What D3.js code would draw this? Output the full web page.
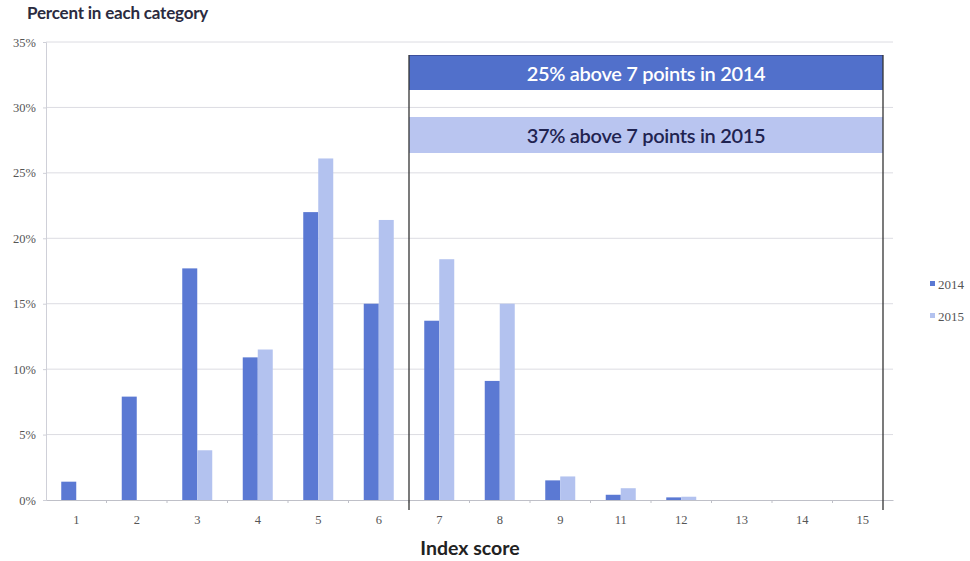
<!DOCTYPE html>
<html>
<head>
<meta charset="utf-8">
<script src="https://cdn.jsdelivr.net/npm/d3@7"></script>
<style>
  body { margin: 0; background: #fff; }
  svg { display: block; }
</style>
</head>
<body>
<svg id="chart" width="970" height="561"></svg>
<script>
// Index score categories (there is no 10)
const categories = ["1", "2", "3", "4", "5", "6", "7", "8", "9", "11", "12", "13", "14", "15"];
// Percent of respondents in each category
const values2014 = [1.4, 7.9, 17.7, 10.9, 22.0, 15.0, 13.7, 9.1, 1.5, 0.4, 0.2, 0, 0, 0];
const values2015 = [0, 0, 3.8, 11.5, 26.1, 21.4, 18.4, 15.0, 1.8, 0.9, 0.25, 0, 0, 0];
const seriesNames = ["2014", "2015"];
const yTicks = [0, 5, 10, 15, 20, 25, 30, 35];
const bannerTexts = ["25% above 7 points in 2014", "37% above 7 points in 2015"];
const splitAt = "7";

const colors = { "2014": "#5b79d3", "2015": "#b3c2ef" };
const bannerFill = ["#5170cb", "#b9c5f0"];
const bannerText = ["#ffffff", "#1f2350"];

const svg = d3.select("#chart");
const plotLeft = 46, plotRight = 893, plotTop = 42, plotBottom = 500;

const x = d3.scaleBand().domain(categories).range([plotLeft, plotRight]).paddingInner(0).paddingOuter(0);
const x1 = d3.scaleBand().domain(seriesNames).range([x.bandwidth() / 2 - 15, x.bandwidth() / 2 + 15]);
const y = d3.scaleLinear().domain([0, 35]).range([plotBottom, plotTop]);

const tickFont = "'Liberation Serif', 'DejaVu Serif', serif";
const labelFont = "Lato, 'Open Sans', sans-serif";

// horizontal gridlines
svg.append("g")
  .selectAll("line")
  .data(yTicks.filter(d => d > 0))
  .join("line")
  .attr("x1", plotLeft).attr("x2", plotRight)
  .attr("y1", d => y(d)).attr("y2", d => y(d))
  .attr("stroke", "#dcdce2").attr("stroke-width", 1);

// y axis
const yAxis = svg.append("g")
  .attr("transform", `translate(${plotLeft},0)`)
  .call(d3.axisLeft(y).tickValues(yTicks).tickFormat(d => d + "%").tickSize(3).tickPadding(7));
yAxis.select(".domain").attr("stroke", "#cfd0d8");
yAxis.selectAll(".tick line").attr("stroke", "#cfd0d8");
yAxis.selectAll("text").attr("font-family", tickFont).attr("font-size", 12.5).attr("fill", "#555");

// bars
const groups = svg.append("g")
  .selectAll("g")
  .data(categories)
  .join("g")
  .attr("transform", d => `translate(${x(d)},0)`);

groups.selectAll("rect")
  .data((d, i) => seriesNames.map(s => ({ s, v: s === "2014" ? values2014[i] : values2015[i] })))
  .join("rect")
  .attr("x", d => x1(d.s))
  .attr("width", x1.bandwidth())
  .attr("y", d => y(d.v))
  .attr("height", d => y(0) - y(d.v))
  .attr("fill", d => colors[d.s]);

// x axis
const xAxis = svg.append("g")
  .attr("transform", `translate(0,${plotBottom})`)
  .call(d3.axisBottom(x).tickSize(0).tickPadding(15));
xAxis.select(".domain").attr("stroke", "#bfc0c8");
xAxis.selectAll("text").attr("font-family", tickFont).attr("font-size", 12.5).attr("fill", "#555");
// small separators between categories
svg.append("g")
  .selectAll("line")
  .data(categories.slice(1))
  .join("line")
  .attr("x1", d => x(d)).attr("x2", d => x(d))
  .attr("y1", plotBottom).attr("y2", plotBottom + 3)
  .attr("stroke", "#bfc0c8");

// bracket marking scores of 7 and above, with the two summary banners
const boxLeft = x(splitAt);
const boxRight = plotRight - 10;
const boxTop = 55;
svg.append("rect")
  .attr("x", boxLeft).attr("y", boxTop)
  .attr("width", boxRight - boxLeft).attr("height", 35)
  .attr("fill", bannerFill[0]);
svg.append("line")
  .attr("x1", boxLeft).attr("x2", boxRight)
  .attr("y1", boxTop + 0.5).attr("y2", boxTop + 0.5)
  .attr("stroke", "#3c4f9c").attr("stroke-width", 1);
svg.append("rect")
  .attr("x", boxLeft).attr("y", 117)
  .attr("width", boxRight - boxLeft).attr("height", 36)
  .attr("fill", bannerFill[1]);
[73, 135].forEach((cy, i) => {
  svg.append("text")
    .attr("x", (boxLeft + boxRight) / 2).attr("y", cy)
    .attr("text-anchor", "middle").attr("dominant-baseline", "central")
    .attr("font-family", labelFont).attr("font-size", 20).attr("font-weight", 600)
    .attr("letter-spacing", -0.3)
    .attr("fill", bannerText[i])
    .text(bannerTexts[i]);
});
[boxLeft, boxRight].forEach(bx => {
  svg.append("line")
    .attr("x1", bx).attr("x2", bx)
    .attr("y1", boxTop).attr("y2", plotBottom + 10)
    .attr("stroke", "#333").attr("stroke-width", 1.3);
});

// axis titles
svg.append("text")
  .attr("x", 27).attr("y", 19)
  .attr("font-family", labelFont).attr("font-size", 17).attr("font-weight", 700)
  .attr("letter-spacing", -0.2)
  .attr("fill", "#2b2b40")
  .text("Percent in each category");
svg.append("text")
  .attr("x", 470).attr("y", 555)
  .attr("text-anchor", "middle")
  .attr("font-family", labelFont).attr("font-size", 19.5).attr("font-weight", 700)
  .attr("fill", "#222")
  .text("Index score");

// legend
const legend = svg.append("g")
  .selectAll("g")
  .data(seriesNames)
  .join("g")
  .attr("transform", (d, i) => `translate(930,${284 + i * 32})`);
legend.append("rect")
  .attr("x", 0).attr("y", -3).attr("width", 5).attr("height", 5)
  .attr("fill", d => colors[d]);
legend.append("text")
  .attr("x", 8).attr("y", 0)
  .attr("dominant-baseline", "central")
  .attr("font-family", tickFont).attr("font-size", 13).attr("fill", "#555")
  .text(d => d);
</script>
</body>
</html>
